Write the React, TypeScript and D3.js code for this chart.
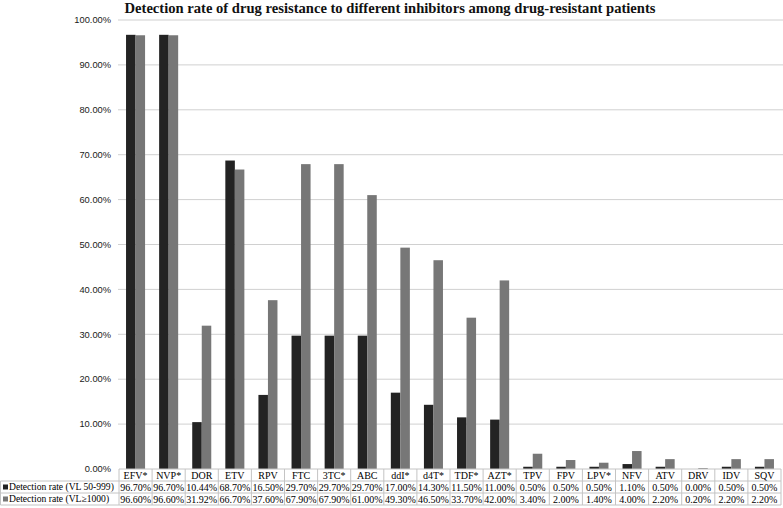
import React from "react";
import * as d3 from "d3";

const categories = ["EFV*", "NVP*", "DOR", "ETV", "RPV", "FTC", "3TC*", "ABC", "ddI*", "d4T*", "TDF*", "AZT*", "TPV", "FPV", "LPV*", "NFV", "ATV", "DRV", "IDV", "SQV"];
const seriesNames = ["Detection rate (VL 50-999)", "Detection rate (VL\u22651000)"];
const lowVL = [96.7, 96.7, 10.44, 68.7, 16.5, 29.7, 29.7, 29.7, 17.0, 14.3, 11.5, 11.0, 0.5, 0.5, 0.5, 1.1, 0.5, 0.0, 0.5, 0.5];
const highVL = [96.6, 96.6, 31.92, 66.7, 37.6, 67.9, 67.9, 61.0, 49.3, 46.5, 33.7, 42.0, 3.4, 2.0, 1.4, 4.0, 2.2, 0.2, 2.2, 2.2];
const yTicks = [0, 10, 20, 30, 40, 50, 60, 70, 80, 90, 100];
const title = "Detection rate of drug resistance to different inhibitors among drug-resistant patients";

const W = 783, H = 508;
const plotLeft = 119, plotRight = 781, plotTop = 20, plotBottom = 469;
const rowH = 12;
const colors = ["#232323", "#777777"];
const gridColor = "#d0d0d0";
const tableColor = "#c4c4c4";

export default function App() {
  const x = d3.scaleBand<string>().domain(categories).range([plotLeft, plotRight]).paddingInner(0).paddingOuter(0);
  const y = d3.scaleLinear().domain([0, 100]).range([plotBottom, plotTop]);
  const groupW = x.bandwidth() * 0.575;
  const inner = d3.scaleBand<number>().domain([0, 1]).range([0, groupW]);
  const series = [lowVL, highVL];
  const fmt = (v: number) => v.toFixed(2) + "%";
  const rowsTop = plotBottom;
  return (
    <svg width={W} height={H} style={{ position: "absolute", left: 0, top: 0, background: "#fff" }}>
      <text x={390} y={12.5} textAnchor="middle" fontFamily="'Liberation Serif', 'Times New Roman', serif" fontWeight="bold" fontSize={14.6} fill="#111">{title}</text>
      {yTicks.map((t) => (
        <g key={t}>
          {t > 0 && <line x1={plotLeft - 1} x2={W} y1={y(t)} y2={y(t)} stroke={gridColor} strokeWidth={1} />}
          <text x={111} y={y(t)} dy="0.35em" textAnchor="end" fontFamily="'Liberation Sans Narrow', 'Liberation Sans', Arial, sans-serif" fontSize={9.3} fill="#1a1a1a">{fmt(t)}</text>
        </g>
      ))}
      {series.map((vals, si) =>
        categories.map((c, i) => {
          const x0 = (x(c) as number) + (x.bandwidth() - groupW) / 2 + (inner(si) as number);
          return <rect key={si + "-" + c} x={x0} y={y(vals[i])} width={inner.bandwidth()} height={y(0) - y(vals[i])} fill={colors[si]} />;
        })
      )}
      {/* table */}
      <g fontFamily="'Liberation Serif', 'Times New Roman', serif" fontSize={10} fill="#000">
        <line x1={plotLeft} x2={plotRight} y1={rowsTop} y2={rowsTop} stroke={tableColor} />
        {[1, 2, 3].map((r) => (
          <line key={r} x1={0.5} x2={plotRight} y1={rowsTop + r * rowH} y2={rowsTop + r * rowH} stroke={tableColor} />
        ))}
        <line x1={0.5} x2={0.5} y1={rowsTop + rowH} y2={rowsTop + 3 * rowH} stroke={tableColor} />
        {categories.map((c) => (
          <line key={"v" + c} x1={x(c) as number} x2={x(c) as number} y1={rowsTop} y2={rowsTop + 3 * rowH} stroke={tableColor} />
        ))}
        <line x1={plotRight} x2={plotRight} y1={rowsTop} y2={rowsTop + 3 * rowH} stroke={tableColor} />
        {categories.map((c) => (
          <text key={"h" + c} x={(x(c) as number) + x.bandwidth() / 2} y={rowsTop + rowH / 2} dy="0.35em" textAnchor="middle">{c}</text>
        ))}
        {series.map((vals, si) => (
          <g key={"row" + si}>
            <rect x={3} y={rowsTop + (si + 1) * rowH + rowH / 2 - 2.5} width={5} height={5} fill={colors[si]} />
            <text x={9} y={rowsTop + (si + 1.5) * rowH} dy="0.35em" fontSize={9.6}>{seriesNames[si]}</text>
            {categories.map((c, i) => (
              <text key={c} x={(x(c) as number) + x.bandwidth() / 2} y={rowsTop + (si + 1.5) * rowH} dy="0.35em" textAnchor="middle">{fmt(vals[i])}</text>
            ))}
          </g>
        ))}
      </g>
    </svg>
  );
}
